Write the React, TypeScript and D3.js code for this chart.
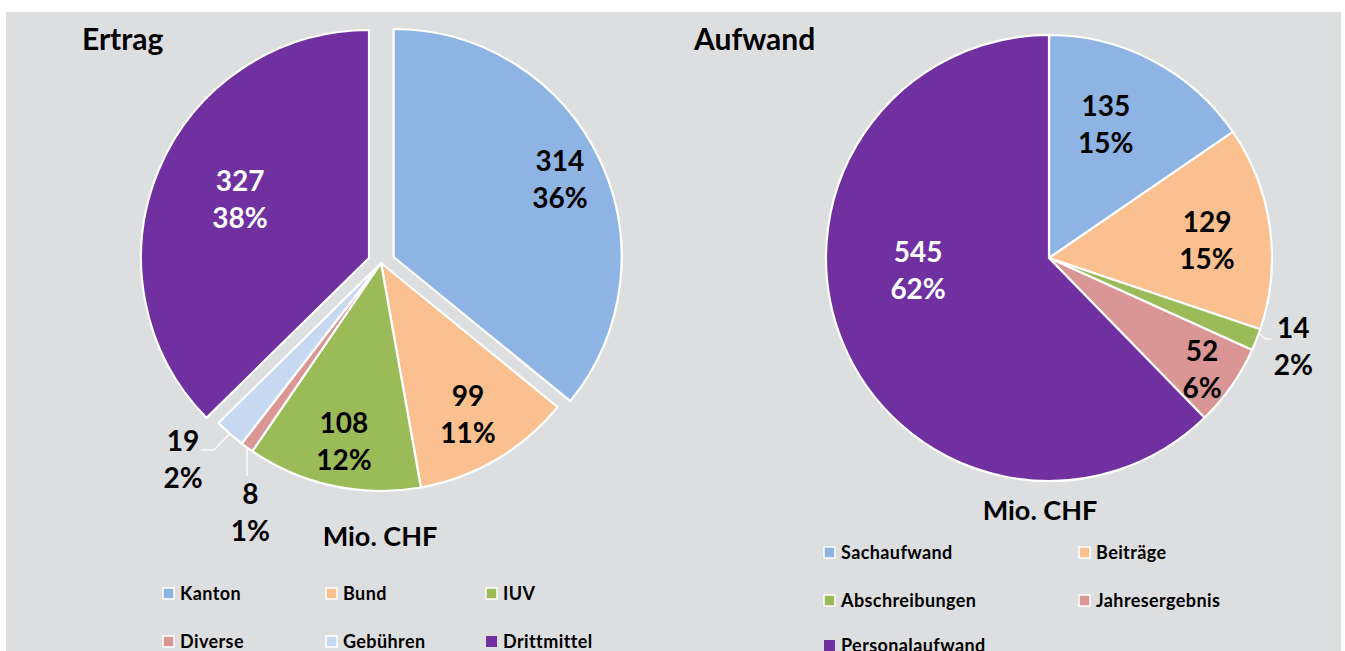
import React from "react";
import * as d3 from "d3";

const W = 1345;
const H = 651;

// Ertrag data
const ertragCats = ["Kanton", "Bund", "IUV", "Diverse", "Gebühren", "Drittmittel"];
const ertragVals = [314, 99, 108, 8, 19, 327];
const ertragPct = ["36%", "11%", "12%", "1%", "2%", "38%"];
const ertragExplode = [14, 0, 0, 0, 0, 13];
// label placement: clockwise degrees shift from bisector, radius fraction
const ertragLabelR = [0.865, 0.768, 0.8, 1.237, 1.225, 0.678];
const ertragLabelShift = [0.5, 0.65, -0.4, -8.4, 3.6, 1.5];
const ertragOutside = [false, false, false, true, true, false];

// Aufwand data
const aufwandCats = ["Sachaufwand", "Beiträge", "Abschreibungen", "Jahresergebnis", "Personalaufwand"];
const aufwandVals = [135, 129, 14, 52, 545];
const aufwandPct = ["15%", "15%", "2%", "6%", "62%"];
const aufwandLabelR = [0.65, 0.713, 1.166, 0.85, 0.59];
const aufwandLabelShift = [-4.7, 1.8, -1.5, 1.1, 16.4];
const aufwandOutside = [false, false, true, false, false];

const COLORS: Record<string, string> = {
  Kanton: "#8EB4E3",
  Bund: "#FAC090",
  IUV: "#9BBB59",
  Diverse: "#D99694",
  Gebühren: "#C6D9F1",
  Drittmittel: "#7030A0",
  Sachaufwand: "#8EB4E3",
  Beiträge: "#FAC090",
  Abschreibungen: "#9BBB59",
  Jahresergebnis: "#D99694",
  Personalaufwand: "#7030A0",
};

const FONT = "Lato, 'Open Sans', sans-serif";

type PieProps = {
  cx: number;
  cy: number;
  r: number;
  cats: string[];
  vals: number[];
  pct: string[];
  explode?: number[];
  labelR: number[];
  labelShift: number[];
  outside: boolean[];
};

function Pie({ cx, cy, r, cats, vals, pct, explode, labelR, labelShift, outside }: PieProps) {
  const pie = d3.pie<number>().sort(null).value((d) => d)(vals);
  const arc = d3.arc<d3.PieArcDatum<number>>().innerRadius(0).outerRadius(r);
  const pt = (ang: number, rad: number) => [Math.sin(ang) * rad, -Math.cos(ang) * rad];
  return (
    <g transform={`translate(${cx},${cy})`}>
      {pie.map((p, i) => {
        const mid = (p.startAngle + p.endAngle) / 2;
        const off = explode ? explode[i] : 0;
        const [ox, oy] = pt(mid, off);
        return (
          <path
            key={cats[i]}
            d={arc(p) || ""}
            transform={`translate(${ox},${oy})`}
            fill={COLORS[cats[i]]}
            stroke="#ffffff"
            strokeWidth={2.2}
            strokeLinejoin="round"
          />
        );
      })}
      {pie.map((p, i) => {
        const mid = (p.startAngle + p.endAngle) / 2;
        const la = mid + (labelShift[i] * Math.PI) / 180;
        const [lx, ly] = pt(la, labelR[i] * r);
        const white = cats[i] === "Drittmittel" || cats[i] === "Personalaufwand";
        const fill = white ? "#ffffff" : "#000000";
        let leader: React.ReactNode = null;
        if (outside[i]) {
          const [ex, ey] = pt(mid, r);
          if (cats[i] === "Gebühren") {
            leader = (
              <polyline
                points={`${ex},${ey} ${lx + 31},${ly - 10} ${lx + 18},${ly - 10}`}
                fill="none"
                stroke="#ffffff"
                strokeWidth={1.3}
              />
            );
          } else if (cats[i] === "Diverse") {
            leader = (
              <polyline
                points={`${ex},${ey} ${ex},${ly - 37}`}
                fill="none"
                stroke="#ffffff"
                strokeWidth={1.3}
              />
            );
          } else {
            leader = (
              <polyline
                points={`${ex + 3},${ey - 6} ${ex + 9},${ly - 8} ${lx - 22},${ly - 8}`}
                fill="none"
                stroke="#ffffff"
                strokeWidth={1.3}
              />
            );
          }
        }
        return (
          <g key={"l" + cats[i]}>
            {leader}
            <text
              x={lx}
              y={ly - 9}
              textAnchor="middle"
              fontFamily={FONT}
              fontWeight="bold"
              fontSize={28}
              fill={fill}
            >
              {vals[i]}
            </text>
            <text
              x={lx}
              y={ly + 28}
              textAnchor="middle"
              fontFamily={FONT}
              fontWeight="bold"
              fontSize={28}
              fill={fill}
            >
              {pct[i]}
            </text>
          </g>
        );
      })}
    </g>
  );
}

type LegendProps = { cats: string[]; xs: number[]; ys: number[]; cols: number };

function Legend({ cats, xs, ys, cols }: LegendProps) {
  return (
    <g>
      {cats.map((c, i) => {
        const x = xs[i % cols];
        const y = ys[Math.floor(i / cols)];
        return (
          <g key={c}>
            <rect
              x={x}
              y={y - 6}
              width={11}
              height={11}
              fill={COLORS[c]}
              stroke={c === "Drittmittel" || c === "Personalaufwand" ? "none" : "#ffffff"}
              strokeWidth={1.5}
            />
            <text
              x={x + 17}
              y={y + 6}
              fontFamily={FONT}
              fontWeight="bold"
              fontSize={18}
              letterSpacing={0.4}
              fill="#000"
            >
              {c}
            </text>
          </g>
        );
      })}
    </g>
  );
}

export default function App() {
  return (
    <svg
      width={W}
      height={H}
      style={{ position: "absolute", left: 0, top: 0, background: "#ffffff" }}
    >
      <rect x={6} y={12} width={1335} height={H} fill="#DDDEE0" />
      <text x={82} y={50} fontFamily={FONT} fontWeight="bold" fontSize={30} fill="#000">
        Ertrag
      </text>
      <text x={694} y={50} fontFamily={FONT} fontWeight="bold" fontSize={30} fill="#000">
        Aufwand
      </text>
      <Pie
        cx={381}
        cy={263}
        r={228}
        cats={ertragCats}
        vals={ertragVals}
        pct={ertragPct}
        explode={ertragExplode}
        labelR={ertragLabelR}
        labelShift={ertragLabelShift}
        outside={ertragOutside}
      />
      <Pie
        cx={1049}
        cy={258}
        r={223}
        cats={aufwandCats}
        vals={aufwandVals}
        pct={aufwandPct}
        labelR={aufwandLabelR}
        labelShift={aufwandLabelShift}
        outside={aufwandOutside}
      />
      <text x={380} y={546} textAnchor="middle" fontFamily={FONT} fontWeight="bold" fontSize={27} fill="#000">
        Mio. CHF
      </text>
      <text x={1040} y={520} textAnchor="middle" fontFamily={FONT} fontWeight="bold" fontSize={27} fill="#000">
        Mio. CHF
      </text>
      <Legend cats={ertragCats} xs={[163, 326, 486]} ys={[594, 642]} cols={3} />
      <Legend cats={aufwandCats} xs={[824, 1079]} ys={[553, 601, 646]} cols={2} />
    </svg>
  );
}
